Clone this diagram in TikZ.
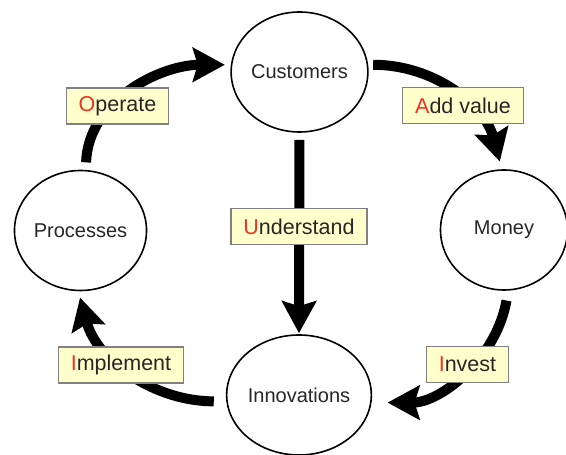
\documentclass[tikz,border=0pt]{standalone}
\usepackage{fontspec}
\setmainfont{Liberation Sans}
\usetikzlibrary{arrows.meta,shapes.geometric}

\definecolor{tagfill}{RGB}{255,255,204}
\definecolor{tagedge}{RGB}{128,128,128}
\definecolor{initial}{RGB}{240,48,32}

\begin{document}
\begin{tikzpicture}[x=1pt,y=1pt,
	stage/.style = {ellipse, draw, line width=1.6pt, minimum width=127pt, minimum height=120pt,
		inner sep=0pt, text=black!85, font=\fontsize{20}{24}\selectfont},
	tag/.style = {draw=tagedge, fill=tagfill, line width=1.3pt, inner xsep=12.5pt, inner ysep=0pt,
		minimum height=36pt, text=black!85, font=\fontsize{21.5}{26}\selectfont},
	flow/.style = {line width=10pt, -{Stealth[length=32pt,width=34pt,inset=5pt]}}]

	\useasboundingbox (0,0) rectangle (566,455);

	\node [stage] (customers)   at (299.5,383) {Customers};
	\node [stage] (processes)   at (80.5,224.5) {Processes};
	\node [stage] (money)       at (504,225) {Money};
	\node [stage] (innovations) at (299,60) {Innovations};

	\draw [flow, shorten <=7.5pt, shorten >=6pt]  (processes.85) to [out=88, in=180] (customers.174);
	\draw [flow, shorten <=5pt, shorten >=8pt]    (customers.6) to [out=0, in=105] (money.92);
	\draw [flow, shorten <=7pt, shorten >=1pt]    (customers.south) -- (innovations.north);
	\draw [flow, shorten <=10pt, shorten >=16pt]  (money.274) to [out=260, in=0] (innovations.-6);
	\draw [flow, shorten <=12.5pt, shorten >=6.5pt] (innovations.185) to [out=180, in=285] (processes.268);

	\node [tag] (operate)    at (117.5,349)  {{\color{initial}O}perate};
	\node [tag] (addvalue)   at (463,349.5)  {{\color{initial}A}dd value};
	\node [tag] (understand) at (299,228.5)  {{\color{initial}U}nderstand};
	\node [tag] (implement)  at (121,90)     {{\color{initial}I}mplement};
	\node [tag] (invest)     at (467.5,90.5) {{\color{initial}I}nvest};

\end{tikzpicture}
\end{document}
